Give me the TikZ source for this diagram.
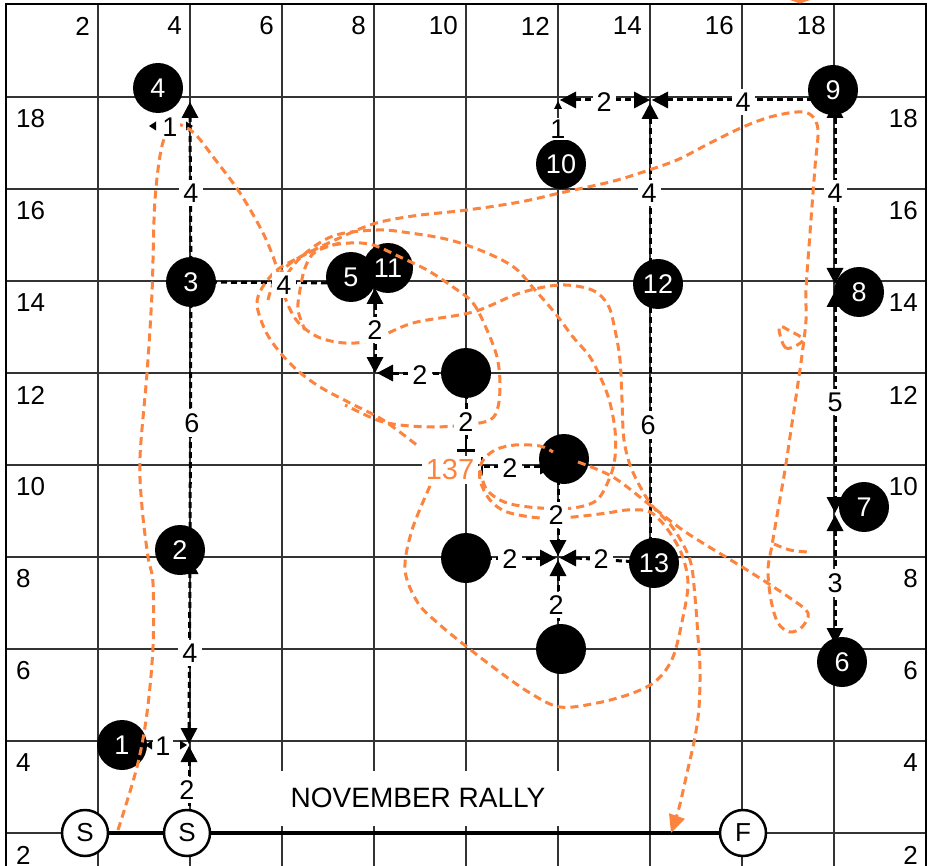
\documentclass[tikz,border=0pt]{standalone}
\usepackage{fontspec}
\setmainfont{Liberation Sans}
\usetikzlibrary{arrows.meta}
\definecolor{routec}{RGB}{252,132,62}
\pgfdeclarelayer{gridl}
\pgfdeclarelayer{dims}
\pgfdeclarelayer{route}
\pgfdeclarelayer{labels}
\pgfsetlayers{gridl,dims,main,route,labels}
\newcommand\gridfont{\fontsize{26}{30}\selectfont}
\newcommand\lblfont{\fontsize{27}{31}\selectfont}
\newcommand\tipU[2]{\fill (#1,#2) -- ++(-8.5,16) -- ++(17,0) -- cycle;}
\newcommand\tipD[2]{\fill (#1,#2) -- ++(-8.5,-16) -- ++(17,0) -- cycle;}
\newcommand\tipL[2]{\fill (#1,#2) -- ++(16,-8.5) -- ++(0,17) -- cycle;}
\newcommand\tipR[2]{\fill (#1,#2) -- ++(-16,-8.5) -- ++(0,17) -- cycle;}
\tikzset{
  gridline/.style={draw=black!80,line width=1.2pt},
  dimline/.style={line width=3pt,dash pattern=on 6pt off 4pt},
  cone/.style={circle,fill=black,text=white,minimum size=50pt,inner sep=0pt,font=\lblfont},
  startc/.style={circle,draw=black,line width=2.5pt,fill=white,minimum size=46pt,inner sep=0pt,font=\gridfont},
  dlab/.style={fill=white,inner sep=4pt,font=\lblfont},
  routeline/.style={draw=routec,line width=3pt,dash pattern=on 8pt off 5pt},
}
\begin{document}
\begin{tikzpicture}[x=1pt,y=-1pt]
\useasboundingbox (0,0) rectangle (931,866);

% grid
\begin{pgfonlayer}{gridl}
\fill[white] (0,0) rectangle (931,866);
\foreach \k in {2,4,...,18}{
  \draw[gridline] ({6+46*\k},5) -- ({6+46*\k},866);
  \draw[gridline] (6,{925-46*\k}) -- (926,{925-46*\k});
}
\draw[line width=2.5pt] (6,866) -- (6,4) -- (926,4) -- (926,866);
\fill[routec] (790,0) -- (810,0) -- (800,3.5) -- cycle;
\end{pgfonlayer}

% cones
\node[cone] (c1) at (122,745) {1};
\node[cone] (c2) at (180,550) {2};
\node[cone] (c3) at (191,282) {3};
\node[cone] (c4) at (158,88) {4};
\node[cone] (c5) at (351,277) {5};
\node[cone] (c11) at (388,268) {11};
\node[cone] (c10) at (561,164) {10};
\node[cone] (c9) at (833,90) {9};
\node[cone] (c8) at (859,292) {8};
\node[cone] (c7) at (864,507) {7};
\node[cone] (c6) at (842,662) {6};
\node[cone] (c12) at (658,284) {12};
\node[cone] (c13) at (654,563) {13};
\node[cone] (u1) at (466,373) {};
\node[cone] (u2) at (564,459) {};
\node[cone] (u3) at (466,558) {};
\node[cone] (u4) at (561,649) {};

\node[startc] (s1) at (85,833) {S};
\node[startc] (s2) at (187,833) {S};
\node[startc] (fin) at (743,833) {F};
\node[fill=white,minimum width=400pt,minimum height=55pt,inner sep=0pt,font=\fontsize{28}{32}\selectfont] (title) at (418,798) {NOVEMBER RALLY};

% dimension lines
\begin{pgfonlayer}{dims}
\draw[line width=3.5pt] (s1) -- (s2) -- (fin);
% X=4
\tipU{190}{102}
\draw[dimline] (190,116) -- (c3.center);
\draw[dimline] (c3.center) -- (190,550);
\tipU{190}{558}
\draw[dimline] (190,572) -- (189,730);
\tipD{189}{744}
\tipU{189}{746}
\draw[dimline] (189,760) -- (189,833);
% small 1 near cone 1
\fill (187,745) -- ++(-7,-4.5) -- ++(0,9) -- cycle;
\fill (145,745) -- ++(7,-4.5) -- ++(0,9) -- cycle;
% small 1 at top
\fill (149,126) -- ++(7,-4.5) -- ++(0,9) -- cycle;
\fill (193,126) -- ++(-7,-4.5) -- ++(0,9) -- cycle;
% Y=14
\draw[dimline] (c3.center) -- (351,283);
% X=8 and Y=12
\tipU{375}{288}
\draw[dimline] (375,304) -- (375,358);
\tipD{375}{373}
\tipL{377}{373}
\draw[dimline] (393,373) -- (u1.center);
% X=10 with bar
\draw[dimline] (u1.center) -- (466,440);
\draw[line width=2.5pt] (466,438) -- (466,450);
\draw[line width=3pt] (457,450) -- (475,450);
% Y=10
\draw[line width=2.5pt] (482,457) -- (482,475);
\draw[dimline] (484,466) -- (542,466);
\tipR{556}{466}
% X=12 cross
\draw[dimline] (558,459) -- (558,541);
\tipD{558}{556}
\draw[dimline] (u3.center) -- (541,558);
\tipR{556}{558}
\draw[dimline] (576,558) -- (c13.center);
\tipL{560}{558}
\tipU{558}{560}
\draw[dimline] (558,575) -- (558,649);
% X=14
\draw[dimline] (650,563) -- (650,284);
\draw[dimline] (650,284) -- (650,118);
\tipU{650}{103}
% Y=18
\tipL{560}{100}
\draw[dimline] (575,100) -- (635,100);
\tipR{650}{100}
\tipL{652}{100}
\draw[dimline] (667,100) -- (833,100);
\fill (558,101) -- ++(-4,8) -- ++(8,0) -- cycle;
% X=18
\tipU{835}{102}
\draw[dimline] (835,118) -- (835,268);
\tipD{835}{284}
\tipU{835}{291}
\draw[dimline] (835,306) -- (835,498);
\tipD{835}{513}
\tipU{835}{515}
\draw[dimline] (835,530) -- (835,628);
\tipD{835}{644}
\end{pgfonlayer}

% route
\begin{pgfonlayer}{route}
\draw[routeline,-{Triangle[length=18pt,width=16pt]}] plot[smooth,tension=0.55] coordinates {
 (118,830) (137,767) (147,713) (153,647) (153,583) (148,557) (142,507) (140,457) (147,373) (152,293)
 (155,200) (163,142) (177,125) (194,133) (214,158) (240,193) (263,233) (276,265) (284,295) (297,321)
 (318,337) (345,343) (372,340) (413,323) (473,312) (520,293) (560,285) (592,290) (608,305) (615,330)
 (620,360) (622,400) (624,440) (632,470) (650,503) (673,528) (690,560) (695,597) (698,637) (700,670)
 (699,707) (695,737) (687,773) (679,808) (671,833)};
\draw[routeline] plot[smooth,tension=0.55] coordinates {
 (578,462) (613,477) (650,505) (687,533) (747,570) (790,598) (808,613) (802,627) (790,632) (778,623)
 (771,600) (768,570) (772,545) (778,510) (785,470) (791,430) (797,390) (802,355) (806,320) (806,290)
 (810,233) (815,167) (818,130) (811,115) (797,112) (770,117) (743,127) (710,143) (677,160) (640,173)
 (610,182) (560,193) (520,202) (467,210) (413,216) (373,224) (335,240) (300,257) (277,270) (262,288)
 (257,305) (265,330) (278,350) (297,370) (320,387) (350,403) (383,420) (418,446)};
\draw[routeline] plot[smooth cycle,tension=0.6] coordinates {(803,340) (786,348) (779,327) (790,331)};
\draw[routeline] plot[smooth,tension=0.6] coordinates {(774,544) (790,550) (808,552)};
\draw[routeline] plot[smooth,tension=0.55] coordinates {
 (430,486) (412,530) (405,570) (418,603) (440,625) (467,647) (497,670) (530,693) (560,707) (597,703)
 (633,693) (657,680) (673,657) (683,617) (688,583) (682,555) (668,530) (650,512) (627,510) (607,513)
 (573,517) (540,518) (507,512) (490,500) (480,480) (482,462) (495,450) (515,445) (540,446) (553,452)};
\draw[routeline] plot[smooth,tension=0.55] coordinates {
 (280,285) (300,258) (333,236) (377,230) (410,233) (450,240) (487,253) (515,268) (535,290) (555,313)
 (573,337) (590,357) (603,383) (610,403) (615,430) (615,457) (610,477) (597,500) (573,508) (540,508)
 (507,503) (487,490) (480,470)};
\draw[routeline] plot[smooth,tension=0.55] coordinates {
 (268,300) (275,280) (292,262) (320,248) (350,243) (373,245) (400,257) (427,270) (453,287) (473,303)
 (487,330) (497,357) (500,383) (498,407) (490,420) (465,425) (433,427) (400,425) (377,420) (345,405)};
\draw[routeline] plot[smooth,tension=0.55] coordinates {
 (340,243) (315,252) (305,268) (300,290) (298,310) (305,330)};
\end{pgfonlayer}

% labels
\begin{pgfonlayer}{labels}
\foreach \k in {2,4,...,18}{
  \node[anchor=east,inner sep=0pt,font=\gridfont] (top\k) at ({6+46*\k-8},26) {\k};
  \node[anchor=west,inner sep=0pt,font=\gridfont] (left\k) at (16,{947-46*\k}) {\k};
  \node[anchor=east,inner sep=0pt,font=\gridfont] (right\k) at (918,{947-46*\k}) {\k};
}
\node[dlab] (l1) at (191,193) {4};
\node[dlab] (l2) at (284,285) {4};
\node[dlab] (l3) at (192,423) {6};
\node[dlab] (l4) at (190,653) {4};
\node[dlab] (l5) at (187,790) {2};
\node[dlab,inner sep=2pt] (l6) at (163,746) {1};
\node[dlab,inner sep=2pt] (l7) at (170,127) {1};
\node[dlab] (l8) at (375,330) {2};
\node[dlab] (l9) at (420,375) {2};
\node[dlab] (l10) at (466,422) {2};
\node[dlab] (l11) at (510,468) {2};
\node[dlab] (l12) at (556,515) {2};
\node[dlab] (l13) at (510,559) {2};
\node[dlab] (l14) at (601,559) {2};
\node[dlab] (l15) at (556,605) {2};
\node[dlab] (l16) at (648,425) {6};
\node[dlab] (l17) at (649,193) {4};
\node[dlab] (l18) at (604,102) {2};
\node[dlab] (l19) at (743,102) {4};
\node[dlab,inner sep=2pt] (l20) at (558,129) {1};
\node[dlab] (l21) at (835,193) {4};
\node[dlab] (l22) at (835,402) {5};
\node[dlab] (l23) at (835,583) {3};
\node[fill=white,inner sep=4pt,text=routec,font=\fontsize{29}{33}\selectfont] (time) at (450,470) {137};
\end{pgfonlayer}
\end{tikzpicture}
\end{document}
